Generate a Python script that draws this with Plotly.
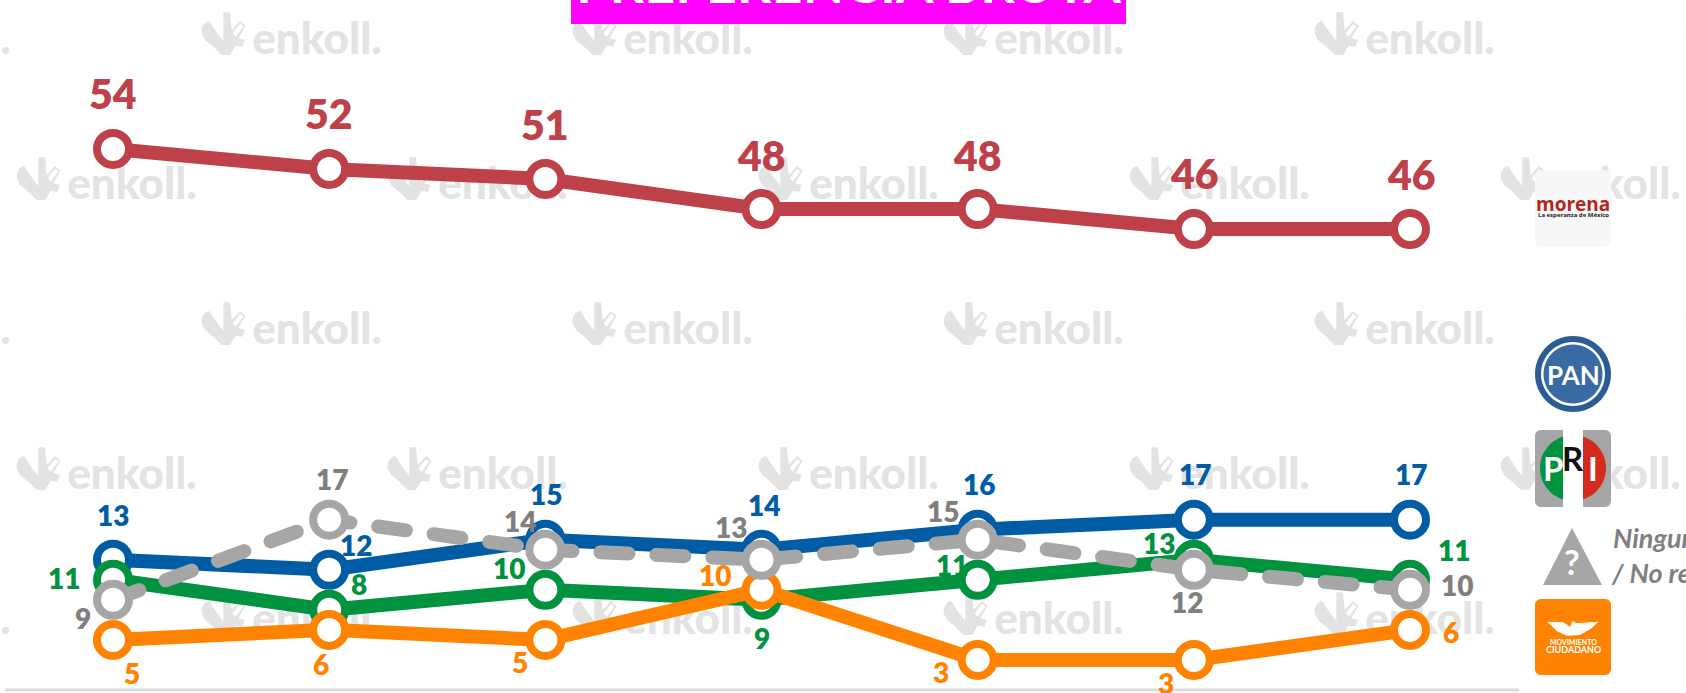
import math
import plotly.graph_objects as go

W, H = 1686, 693

waves = [1, 2, 3, 4, 5, 6, 7]
morena = [54, 52, 51, 48, 48, 46, 46]
pan = [13, 12, 15, 14, 16, 17, 17]
pri = [11, 8, 10, 9, 11, 13, 11]
mc = [5, 6, 5, 10, 3, 3, 6]
ninguno = [9, 17, 14, 13, 15, 12, 10]

title_text = "PREFERENCIA BRUTA"

C_MORENA, C_PAN, C_PRI, C_MC, C_NO = "#BE4048", "#005CA5", "#00923F", "#FF8300", "#A6A6A6"
C_NO_TEXT = "#7F7F7F"
FONT = "Lato"

# label offsets in pixels (dx, dy downward) from each point
shift_morena = [(0, -56), (0, -56), (0, -55), (0, -55), (0, -55), (1, -57), (1, -56)]
shift_pan = [(0, -46), (27, -26), (1, -47), (2, -46), (1, -47), (1, -47), (1, -47)]
shift_pri = [(-49, -3), (30, -27), (-36, -23), (0, 37), (-26, -16), (-35, -18), (44, -31)]
shift_no = [(-30, 17), (3, -42), (-25, -30), (-31, -34), (-35, -30), (-7, 31), (47, -6)]
shift_mc = [(19, 32), (-8, 33), (-25, 21), (-47, -16), (-37, 11), (-28, 22), (41, 1)]

# axis scale: first point at x=113 px, 216.17 px per wave; zero at y=690 px, 10.02 px per unit
PX_X, X0 = 216.17, 113.0
PX_Y, Y0 = 10.02, 690.0
xrange_ = [1 - X0 / PX_X, 1 + (W - X0) / PX_X]
yrange_ = [(Y0 - H) / PX_Y, Y0 / PX_Y]


def dx(px):
    return 1 + (px - X0) / PX_X


def dy(px):
    return (Y0 - px) / PX_Y


def fx(px):
    return px / W


def fy(px):
    return 1 - px / H


def path(points, close=True):
    s = "M " + " L ".join(f"{fx(a):.5f},{fy(b):.5f}" for a, b in points)
    return s + (" Z" if close else "")


def rrect(x0, y0, x1, y1, r):
    steps = []
    for cx, cy, a0 in [(x1 - r, y0 + r, -90), (x1 - r, y1 - r, 0), (x0 + r, y1 - r, 90), (x0 + r, y0 + r, 180)]:
        for k in range(7):
            a = math.radians(a0 + 15 * k)
            steps.append((cx + r * math.cos(a), cy + r * math.sin(a)))
    return path(steps)


def circle_seg(cx, cy, r, a0, a1, n=30):
    pts = []
    for k in range(n + 1):
        a = math.radians(a0 + (a1 - a0) * k / n)
        pts.append((cx + r * math.cos(a), cy + r * math.sin(a)))
    return pts


shapes = []
annotations = []


def add_path(d, color, layer="below"):
    shapes.append(dict(type="path", xref="paper", yref="paper", path=d, fillcolor=color,
                       line=dict(width=0), layer=layer))


def add_text(x, y, text, size, color, bold=True, italic=False, font=FONT, xanchor="center"):
    t = text
    if italic:
        t = f"<i>{t}</i>"
    if bold:
        t = f"<b>{t}</b>"
    annotations.append(dict(xref="paper", yref="paper", x=fx(x), y=fy(y), text=t, showarrow=False,
                            xanchor=xanchor, yanchor="middle", font=dict(size=size, color=color, family=font),
                            borderpad=0, align="left"))


# watermark grid
WM = "#E3E3E3"
WM_OUTER = [(20, 70), (28, 55), (42, 47), (62, 78), (85, 108), (85, 22), (105, 22), (110, 75), (135, 48),
            (152, 62), (130, 100), (150, 105), (142, 125), (122, 122), (105, 150), (80, 150), (55, 125),
            (30, 105), (20, 85)]
WM_GAP = [(113, 85), (135, 57), (145, 64), (122, 95)]
wm_x, wm_y, wm_t = [], [], []
rows = [(12, -171), (157, 15), (302, -171), (447, 15), (592, -171)]
for top, start in rows:
    for i in range(6):
        left = start + 371 * i
        add_path(path([(left + a / 3 - 5, top + b / 3 - 7) for a, b in WM_OUTER]), WM)
        add_path(path([(left + a / 3 - 5, top + b / 3 - 7) for a, b in WM_GAP]), "#FFFFFF")
        wm_x.append(dx(left + 117))
        wm_y.append(dy(top + 31))
        wm_t.append("enkoll.")

fig = go.Figure()
fig.add_trace(go.Scatter(x=wm_x, y=wm_y, text=wm_t, mode="text", textposition="middle center",
                         textfont=dict(size=44, color=WM, family=FONT, weight=900),
                         hoverinfo="skip", showlegend=False))

# baseline
shapes.append(dict(type="line", xref="x", yref="y", x0=dx(5), x1=dx(1519), y0=0, y1=0,
                   line=dict(color="#DCDCDC", width=3), layer="below"))

series = [
    ("MORENA", morena, C_MORENA, C_MORENA, shift_morena, 41, None),
    ("PAN", pan, C_PAN, C_PAN, shift_pan, 28, None),
    ("PRI", pri, C_PRI, C_PRI, shift_pri, 28, None),
    ("MC", mc, C_MC, C_MC, shift_mc, 28, None),
    ("Ninguno / No responde", ninguno, C_NO, C_NO_TEXT, shift_no, 28, "28px,28px"),
]
for name, vals, col, tcol, shift, fsize, dash in series:
    fig.add_trace(go.Scatter(
        x=waves, y=vals, mode="lines+markers", name=name, showlegend=False,
        line=dict(color=col, width=14, dash=dash or "solid"),
        marker=dict(size=32, color="white", line=dict(color=col, width=8)),
    ))
    for xv, yv, (sx, sy) in zip(waves, vals, shift):
        annotations.append(dict(x=xv, y=yv, xref="x", yref="y", text=f"{yv}", showarrow=False,
                                xshift=sx, yshift=-sy - 1, xanchor="center", yanchor="middle",
                                font=dict(size=fsize, color=tcol, family=FONT, weight=800)))

# title banner
add_path(path([(571, -5), (1126, -5), (1126, 24), (571, 24)]), "#FF00FF", layer="above")
add_text(848.5, -17, title_text, 54, "white")

# morena logo
add_path(rrect(1535, 170, 1611, 247, 6), "#F7F7F7", layer="above")
add_text(1573, 204, "morena", 19, "#B3261E", font="Open Sans")
add_text(1573, 215, "La esperanza de México", 6, "#222222", font="Open Sans")

# PAN logo
add_path(path(circle_seg(1573, 374, 38, 0, 360, 60)), "#2B5C93", layer="above")
add_path(path(circle_seg(1573, 374, 32, 0, 360, 60)), "#FFFFFF", layer="above")
add_path(path(circle_seg(1573, 374, 29.5, 0, 360, 60)), "#3A6AA3", layer="above")
add_text(1573, 375, "PAN", 26, "white")

# PRI logo
add_path(rrect(1535, 430, 1611, 507, 6), "#A6A6A6", layer="above")
add_path(path(circle_seg(1573, 468, 33, 107.6, 252.4)), "#00923F", layer="above")
add_path(path(circle_seg(1573, 468, 33, -72.4, 72.4)), "#D52B1E", layer="above")
add_path(path([(1563, 430), (1583, 430), (1583, 507), (1563, 507)]), "#FFFFFF", layer="above")
add_text(1553, 468, "P", 33, "white")
add_text(1573, 458, "R", 33, "#111111")
add_text(1593, 468, "I", 33, "white")

# question triangle
add_path(path([(1572, 528), (1602, 585), (1543, 585)]), "#A6A6A6", layer="above")
add_text(1572, 561, "?", 34, "white")
add_text(1612, 537, "Ninguno", 27, C_NO_TEXT, italic=True, xanchor="left")
add_text(1610, 572, "/ No responde", 27, C_NO_TEXT, italic=True, xanchor="left")

# MC logo
add_path(rrect(1535, 599, 1611, 675, 6), "#FF8300", layer="above")
EAGLE = [(52, 80), (100, 82), (120, 95), (128, 78), (140, 85), (205, 80), (185, 100), (150, 120), (110, 122), (80, 108)]
add_path(path([(1530 + a / 3, 595 + b / 3) for a, b in EAGLE]), "#FFFFFF", layer="above")
add_text(1573, 642, "MOVIMIENTO", 7, "white")
add_text(1573, 649.5, "CIUDADANO", 9, "white")

fig.update_layout(
    width=W, height=H, margin=dict(l=0, r=0, t=0, b=0), autosize=False,
    paper_bgcolor="white", plot_bgcolor="rgba(0,0,0,0)", showlegend=False,
    shapes=shapes, annotations=annotations,
    xaxis=dict(range=xrange_, visible=False, fixedrange=True),
    yaxis=dict(range=yrange_, visible=False, fixedrange=True),
)

post = """
document.body.style.margin='0';
document.documentElement.style.overflow='hidden';
var st=document.createElement('style');
st.textContent='.scatterlayer .js-line{stroke-linecap:round !important}';
document.head.appendChild(st);
"""
fig.write_html("out.html", post_script=post, config=dict(displayModeBar=False))
